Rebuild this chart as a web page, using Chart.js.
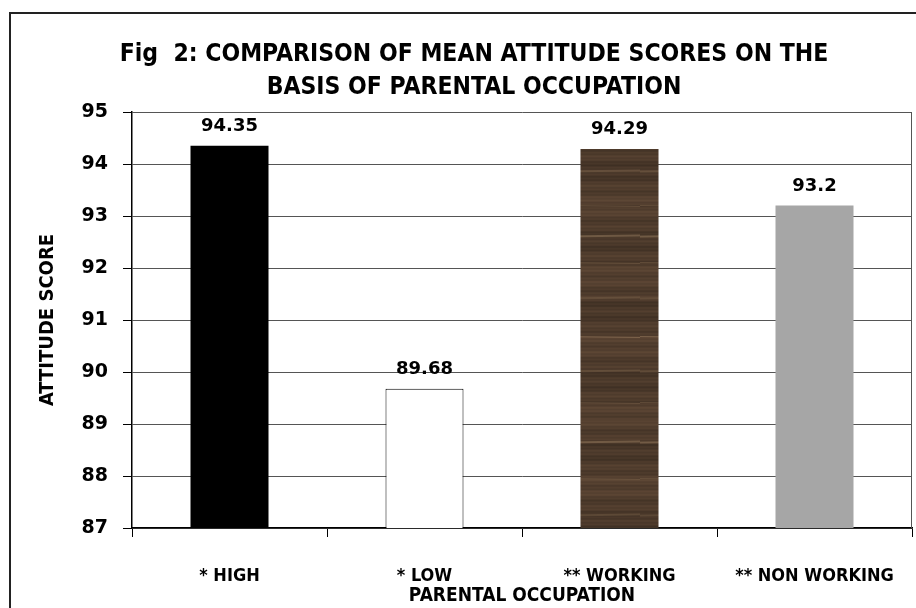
<!DOCTYPE html>
<html>
<head>
<meta charset="utf-8">
<title>Fig 2: Mean attitude scores by parental occupation</title>
<script src="https://cdn.jsdelivr.net/npm/chart.js@4.4.0/dist/chart.umd.min.js"></script>
<style>
  html, body { margin: 0; padding: 0; background: #fff; overflow: hidden; }
  #wrap { width: 916px; height: 608px; overflow: hidden; }
</style>
</head>
<body>
<div id="wrap"><canvas id="chart" width="944" height="608"></canvas></div>
<script>
const titleLines = ['Fig  2: COMPARISON OF MEAN ATTITUDE SCORES ON THE', 'BASIS OF PARENTAL OCCUPATION'];
const categories = ['* HIGH', '* LOW', '** WORKING', '** NON WORKING'];
const scores = [94.35, 89.68, 94.29, 93.2];
const scoreLabels = ['94.35', '89.68', '94.29', '93.2'];
const yMin = 87;
const yMax = 95;
const yStep = 1;

const narrow = "'Liberation Sans Narrow', 'DejaVu Sans Condensed', sans-serif";

// brown wood-grain fill for the WORKING bar
function woodPattern() {
  const c = document.createElement('canvas');
  c.width = 80;
  c.height = 420;
  const g = c.getContext('2d');
  for (let y = 0; y < 420; y++) {
    const v = Math.sin(y * 0.45) * 0.4 + Math.sin(y * 1.7 + 0.6) * 0.3 + Math.sin(y * 0.09 + 2) * 0.35;
    const r = Math.round(78 + v * 16), gr = Math.round(59 + v * 12), b = Math.round(44 + v * 9);
    g.fillStyle = `rgb(${r},${gr},${b})`;
    g.fillRect(0, y, 80, 1);
  }
  // lighter grain lines
  const streaks = [22, 58, 95, 128, 171, 205, 236, 262, 298, 336, 371, 402];
  streaks.forEach((y, i) => {
    g.strokeStyle = i % 3 === 0 ? 'rgba(150,122,92,0.55)' : 'rgba(120,96,72,0.5)';
    g.lineWidth = i % 2 ? 1 : 2;
    g.beginPath();
    g.moveTo(0, y + 0.5);
    g.lineTo(80, y + (i % 2 ? 1.5 : -0.5));
    g.stroke();
  });
  return document.getElementById('chart').getContext('2d').createPattern(c, 'repeat');
}

const framePlugin = {
  id: 'frame',
  beforeDraw(chart) {
    const ctx = chart.ctx;
    ctx.save();
    ctx.fillStyle = '#fff';
    ctx.fillRect(0, 0, chart.width, chart.height);
    ctx.strokeStyle = '#222';
    ctx.lineWidth = 2;
    ctx.strokeRect(10, 13, chart.width - 20, chart.height + 40);
    ctx.restore();
  },
  beforeDatasetsDraw(chart) {
    const { ctx, chartArea } = chart;
    ctx.save();
    ctx.strokeStyle = '#555';
    ctx.lineWidth = 1;
    ctx.beginPath();
    ctx.moveTo(chartArea.right - 0.5, chartArea.top);
    ctx.lineTo(chartArea.right - 0.5, chartArea.bottom);
    ctx.stroke();
    ctx.restore();
  }
};

const valueLabels = {
  id: 'valueLabels',
  afterDatasetsDraw(chart) {
    const ctx = chart.ctx;
    const meta = chart.getDatasetMeta(0);
    ctx.save();
    ctx.font = "bold 18px 'DejaVu Sans'";
    ctx.fillStyle = '#000';
    ctx.textAlign = 'center';
    ctx.textBaseline = 'alphabetic';
    meta.data.forEach((bar, i) => ctx.fillText(scoreLabels[i], bar.x, bar.y - 15));
    ctx.restore();
  }
};

new Chart(document.getElementById('chart'), {
  type: 'bar',
  data: {
    labels: categories,
    datasets: [{
      data: scores,
      backgroundColor: ['#000000', '#ffffff', woodPattern(), '#a6a6a6'],
      borderColor: '#000',
      borderWidth: [0, 1, 0, 0],
      barPercentage: 0.4,
      categoryPercentage: 1
    }]
  },
  options: {
    responsive: false,
    animation: false,
    layout: { padding: { left: 36, right: 32, top: 0, bottom: 0 } },
    plugins: {
      legend: { display: false },
      tooltip: { enabled: false },
      title: {
        display: true,
        text: titleLines,
        color: '#000',
        font: { family: narrow, size: 24.5, weight: 'bold', lineHeight: '33px' },
        padding: { top: 38.5, bottom: 7.5 }
      }
    },
    scales: {
      x: {
        grid: { display: true, drawOnChartArea: false, drawTicks: true, tickLength: 9, color: '#000' },
        border: { color: '#000', width: 1.5 },
        ticks: {
          color: '#000',
          padding: 29,
          autoSkip: false,
          maxRotation: 0,
          font: { family: narrow, size: 18, weight: 'bold' }
        },
        title: {
          display: true,
          text: 'PARENTAL OCCUPATION',
          color: '#000',
          font: { family: narrow, size: 19, weight: 'bold' },
          padding: { top: 0, bottom: 1 }
        },
        afterFit(scale) { scale.height = 80; }
      },
      y: {
        min: yMin,
        max: yMax,
        grid: { color: '#555', tickColor: '#000', tickLength: 9, lineWidth: 1 },
        border: { color: '#000', width: 1.5 },
        ticks: {
          stepSize: yStep,
          color: '#000',
          padding: 15,
          font: { family: 'DejaVu Sans', size: 19, weight: 'bold' }
        },
        title: {
          display: true,
          text: 'ATTITUDE SCORE',
          color: '#000',
          font: { family: narrow, size: 20, weight: 'bold' },
          padding: { top: 0, bottom: 0 }
        },
        afterFit(scale) { scale.width = 96; }
      }
    }
  },
  plugins: [framePlugin, valueLabels]
});
</script>
</body>
</html>
